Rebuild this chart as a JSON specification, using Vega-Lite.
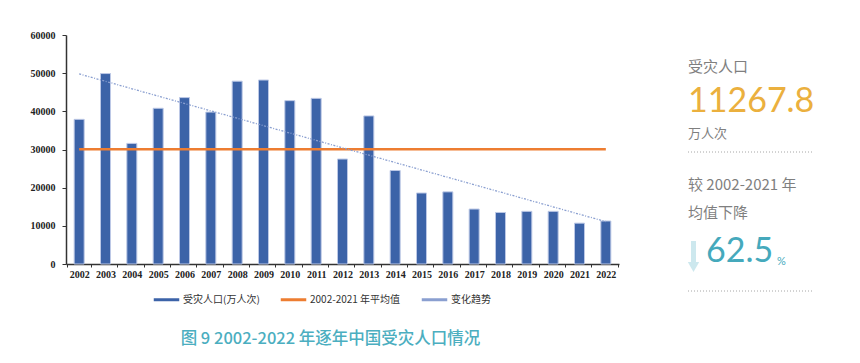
{
  "$schema": "https://vega.github.io/schema/vega-lite/v6.json",
  "background": "white",
  "padding": {"left": 30, "top": 30, "right": 0, "bottom": 0},
  "spacing": 68,
  "datasets": {
    "pop": [
      {"year": "2002", "value": 37900},
      {"year": "2003", "value": 49900},
      {"year": "2004", "value": 31600},
      {"year": "2005", "value": 40800},
      {"year": "2006", "value": 43600},
      {"year": "2007", "value": 39800},
      {"year": "2008", "value": 47900},
      {"year": "2009", "value": 48200},
      {"year": "2010", "value": 42800},
      {"year": "2011", "value": 43400},
      {"year": "2012", "value": 27500},
      {"year": "2013", "value": 38800},
      {"year": "2014", "value": 24500},
      {"year": "2015", "value": 18600},
      {"year": "2016", "value": 18900},
      {"year": "2017", "value": 14400},
      {"year": "2018", "value": 13500},
      {"year": "2019", "value": 13800},
      {"year": "2020", "value": 13800},
      {"year": "2021", "value": 10700},
      {"year": "2022", "value": 11267.8}
    ],
    "avg": [{"from": "2002", "to": "2022", "value": 30047}],
    "trend": [{"from": "2002", "to": "2022", "start": 49800, "end": 11100}],
    "notes": [
      {"role": "head", "text": "受灾人口"},
      {"role": "big", "text": "11267.8"},
      {"role": "unit", "text": "万人次"},
      {"role": "cmp1", "text": "较 2002-2021 年"},
      {"role": "cmp2", "text": "均值下降"},
      {"role": "pct", "text": "62.5"},
      {"role": "pctsign", "text": "%"}
    ]
  },
  "hconcat": [
    {
      "width": 553,
      "height": 229,
      "title": {
        "text": "图 9 2002-2022 年逐年中国受灾人口情况",
        "orient": "bottom",
        "anchor": "middle",
        "font": "Noto Sans CJK SC",
        "fontSize": 16.5,
        "fontWeight": 500,
        "color": "#4BAEC0",
        "offset": 52,
        "dx": -12
      },
      "layer": [
        {
          "data": {"name": "pop"},
          "mark": {"type": "bar", "width": 10, "stroke": "#BCC8E6", "strokeWidth": 1},
          "encoding": {
            "x": {"field": "year", "type": "ordinal", "title": null},
            "y": {
              "field": "value",
              "type": "quantitative",
              "title": null,
              "scale": {"domain": [0, 60000]},
              "axis": {"values": [0, 10000, 20000, 30000, 40000, 50000, 60000], "format": "d", "labelOverlap": false}
            },
            "color": {
              "datum": "受灾人口(万人次)",
              "scale": {
                "domain": ["受灾人口(万人次)", "2002-2021 年平均值", "变化趋势"],
                "range": ["#3C63A8", "#ED7D31", "#8A9FD0"]
              },
              "legend": {
                "title": null,
                "orient": "none",
                "legendX": 86,
                "legendY": 250,
                "direction": "horizontal",
                "symbolType": "stroke",
                "symbolSize": 650,
                "symbolStrokeWidth": 3,
                "labelFont": "Noto Sans CJK SC",
                "labelFontSize": 10,
                "labelColor": "#333",
                "labelOffset": 2,
                "columnPadding": 14,
                "encode": {
                  "symbols": {
                    "update": {
                      "shape": {"value": "stroke"},
                      "stroke": {"scale": "color", "field": "value"},
                      "strokeWidth": {"signal": "datum.value === '受灾人口(万人次)' ? 4 : (datum.value === '变化趋势' ? 1.2 : 2.5)"},
                      "strokeDash": {"signal": "datum.value === '变化趋势' ? [2, 2] : [100, 0]"}
                    }
                  }
                }
              }
            }
          }
        },
        {
          "data": {"name": "avg"},
          "mark": {"type": "rule", "strokeWidth": 2.5},
          "encoding": {
            "x": {"field": "from", "type": "ordinal", "title": null},
            "x2": {"field": "to"},
            "y": {"field": "value", "type": "quantitative", "title": null, "axis": {"values": [0, 10000, 20000, 30000, 40000, 50000, 60000], "format": "d", "labelOverlap": false}},
            "color": {"datum": "2002-2021 年平均值"}
          }
        },
        {
          "data": {"name": "trend"},
          "mark": {"type": "rule", "strokeWidth": 1.3, "strokeDash": [2, 1.5, 1, 1.5]},
          "encoding": {
            "x": {"field": "from", "type": "ordinal", "title": null},
            "x2": {"field": "to"},
            "y": {"field": "start", "type": "quantitative", "title": null, "axis": {"values": [0, 10000, 20000, 30000, 40000, 50000, 60000], "format": "d", "labelOverlap": false}},
            "y2": {"field": "end"},
            "color": {"datum": "变化趋势"}
          }
        }
      ]
    },
    {
      "width": 130,
      "height": 260,
      "data": {"name": "notes"},
      "encoding": {
        "x": {"datum": 0, "type": "quantitative", "scale": {"domain": [0, 130]}, "axis": null},
        "y": {"datum": 0, "type": "quantitative", "scale": {"domain": [0, 260], "reverse": true}, "axis": null}
      },
      "layer": [
        {
          "transform": [{"filter": "datum.role === 'head'"}],
          "mark": {"type": "text", "align": "left", "baseline": "alphabetic", "font": "Noto Sans CJK SC", "fontSize": 15, "color": "#7F7F7F"},
          "encoding": {"text": {"field": "text"}, "y": {"datum": 36.5}}
        },
        {
          "transform": [{"filter": "datum.role === 'big'"}],
          "mark": {"type": "text", "align": "left", "baseline": "alphabetic", "font": "Lato", "fontWeight": "normal", "fontSize": 34, "color": "#EBB03E"},
          "encoding": {"text": {"field": "text"}, "y": {"datum": 77}}
        },
        {
          "transform": [{"filter": "datum.role === 'unit'"}],
          "mark": {"type": "text", "align": "left", "baseline": "alphabetic", "font": "Noto Sans CJK SC", "fontSize": 13, "color": "#7F7F7F"},
          "encoding": {"text": {"field": "text"}, "y": {"datum": 103}}
        },
        {
          "transform": [{"filter": "datum.role === 'cmp1'"}],
          "mark": {"type": "text", "align": "left", "baseline": "alphabetic", "font": "Noto Sans CJK SC", "fontSize": 15, "color": "#7F7F7F"},
          "encoding": {"text": {"field": "text"}, "y": {"datum": 155}}
        },
        {
          "transform": [{"filter": "datum.role === 'cmp2'"}],
          "mark": {"type": "text", "align": "left", "baseline": "alphabetic", "font": "Noto Sans CJK SC", "fontSize": 15, "color": "#7F7F7F"},
          "encoding": {"text": {"field": "text"}, "y": {"datum": 183}}
        },
        {
          "transform": [{"filter": "datum.role === 'pct'"}],
          "mark": {"type": "text", "align": "left", "baseline": "alphabetic", "font": "Lato", "fontWeight": "normal", "fontSize": 34, "color": "#45A9BC"},
          "encoding": {"text": {"field": "text"}, "x": {"datum": 18}, "y": {"datum": 227}}
        },
        {
          "transform": [{"filter": "datum.role === 'pctsign'"}],
          "mark": {"type": "text", "align": "left", "baseline": "alphabetic", "font": "Lato", "fontSize": 11, "color": "#45A9BC"},
          "encoding": {"text": {"field": "text"}, "x": {"datum": 89}, "y": {"datum": 230}}
        },
        {
          "transform": [{"filter": "datum.role === 'head'"}],
          "mark": {"type": "rule", "strokeWidth": 5, "color": "#CDE8EE"},
          "encoding": {"x": {"datum": 5.5}, "y": {"datum": 206}, "y2": {"datum": 228}}
        },
        {
          "transform": [{"filter": "datum.role === 'head'"}],
          "mark": {"type": "point", "shape": "triangle-down", "filled": true, "size": 130, "color": "#CDE8EE", "opacity": 1},
          "encoding": {"x": {"datum": 5.5}, "y": {"datum": 232}}
        },
        {
          "transform": [{"filter": "datum.role === 'head'"}],
          "mark": {"type": "rule", "strokeWidth": 1, "strokeDash": [1, 2], "color": "#A6A6A6"},
          "encoding": {"x": {"datum": 0}, "x2": {"datum": 126}, "y": {"datum": 117}}
        },
        {
          "transform": [{"filter": "datum.role === 'head'"}],
          "mark": {"type": "rule", "strokeWidth": 1, "strokeDash": [1, 2], "color": "#A6A6A6"},
          "encoding": {"x": {"datum": 0}, "x2": {"datum": 126}, "y": {"datum": 256}}
        }
      ]
    }
  ],
  "config": {
    "view": {"stroke": null},
    "axis": {
      "grid": false,
      "labelFont": "Liberation Serif",
      "labelFontWeight": "bold",
      "labelFontSize": 10,
      "labelColor": "#222",
      "tickColor": "#333",
      "domainColor": "#333",
      "domainWidth": 1.5
    },
    "axisX": {"labelAngle": 0, "labelPadding": 2, "tickBand": "extent", "tickSize": 3},
    "axisY": {"labelPadding": 7, "tickSize": 4}
  }
}
